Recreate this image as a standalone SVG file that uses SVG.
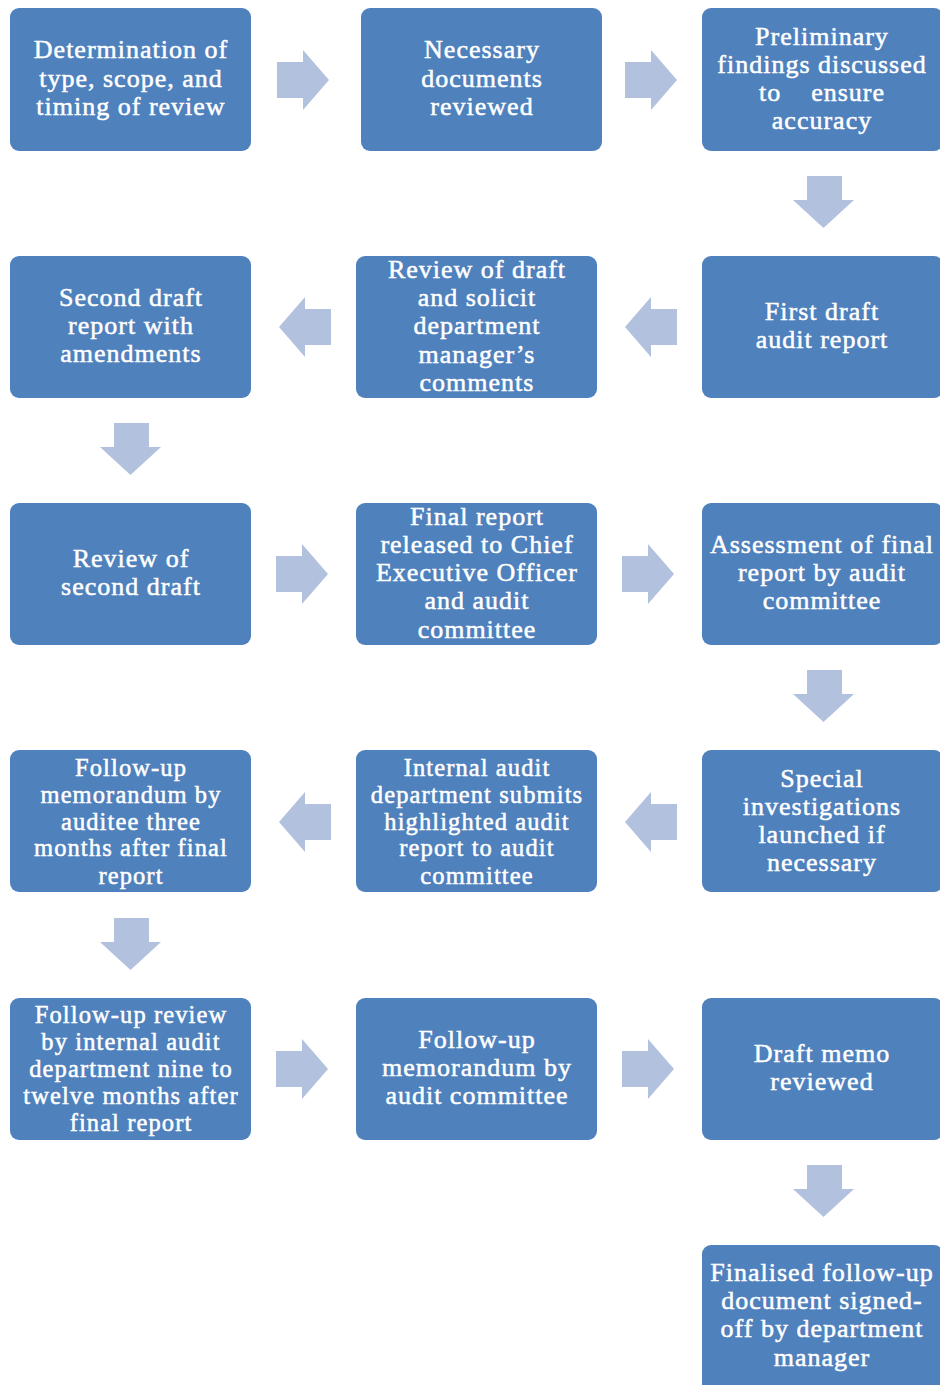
<svg xmlns="http://www.w3.org/2000/svg" width="940" height="1385" viewBox="0 0 940 1385">
<style>
.box{fill:#4F81BD;}
.arr{fill:#B2C2DE;}
text{font-family:"Liberation Serif","DejaVu Serif",serif;font-size:26px;letter-spacing:1px;fill:#FFFFFF;text-anchor:middle;stroke:#FFFFFF;stroke-width:0.5;}
.sm{font-size:24.5px;letter-spacing:1.1px;}
</style>
<defs>
<path id="ar" d="M0,12 H26 V0 L52,30 L26,60 V48 H0 Z"/>
<path id="al" d="M52,12 H26 V0 L0,30 L26,60 V48 H52 Z"/>
<path id="ad" d="M14,0 H49 V24 H61 L30.5,52 L0,24 H14 Z"/>
</defs>
<rect width="940" height="1385" fill="#FFFFFF"/>
<g id="connectors" class="arr">
<use href="#ar" x="277" y="50"/>
<use href="#ar" x="625" y="50"/>
<use href="#ad" x="793" y="176"/>
<use href="#al" x="625" y="297"/>
<use href="#al" x="279" y="297"/>
<use href="#ad" x="100" y="423"/>
<use href="#ar" x="276" y="544"/>
<use href="#ar" x="622" y="544"/>
<use href="#ad" x="793" y="670"/>
<use href="#al" x="625" y="792"/>
<use href="#al" x="279" y="792"/>
<use href="#ad" x="100" y="918"/>
<use href="#ar" x="276" y="1039"/>
<use href="#ar" x="622" y="1039"/>
<use href="#ad" x="793" y="1165"/>
</g>
<g id="n1"><rect class="box" x="10" y="8" width="241" height="143" rx="9"/>
<text x="131" y="58">Determination of</text><text x="131" y="87">type, scope, and</text><text x="131" y="115">timing of review</text></g>
<g id="n2"><rect class="box" x="361" y="8" width="241" height="143" rx="9"/>
<text x="482" y="58">Necessary</text><text x="482" y="87">documents</text><text x="482" y="115">reviewed</text></g>
<g id="n3"><rect class="box" x="702" y="8" width="241" height="143" rx="9"/>
<text x="822" y="45">Preliminary</text><text x="822" y="73">findings discussed</text><text x="822" y="101" style="white-space:pre">to    ensure</text><text x="822" y="129">accuracy</text></g>
<g id="n4"><rect class="box" x="702" y="256" width="241" height="142" rx="9"/>
<text x="822" y="320">First draft</text><text x="822" y="348">audit report</text></g>
<g id="n5"><rect class="box" x="356" y="256" width="241" height="142" rx="9"/>
<text x="477" y="278">Review of draft</text><text x="477" y="306">and solicit</text><text x="477" y="334">department</text><text x="477" y="363">manager’s</text><text x="477" y="391">comments</text></g>
<g id="n6"><rect class="box" x="10" y="256" width="241" height="142" rx="9"/>
<text x="131" y="306">Second draft</text><text x="131" y="334">report with</text><text x="131" y="362">amendments</text></g>
<g id="n7"><rect class="box" x="10" y="503" width="241" height="142" rx="9"/>
<text x="131" y="567">Review of</text><text x="131" y="595">second draft</text></g>
<g id="n8"><rect class="box" x="356" y="503" width="241" height="142" rx="9"/>
<text x="477" y="525">Final report</text><text x="477" y="553">released to Chief</text><text x="477" y="581">Executive Officer</text><text x="477" y="609">and audit</text><text x="477" y="638">committee</text></g>
<g id="n9"><rect class="box" x="702" y="503" width="241" height="142" rx="9"/>
<text x="822" y="553">Assessment of final</text><text x="822" y="581">report by audit</text><text x="822" y="609">committee</text></g>
<g id="n10"><rect class="box" x="702" y="750" width="241" height="142" rx="9"/>
<text x="822" y="787">Special</text><text x="822" y="815">investigations</text><text x="822" y="843">launched if</text><text x="822" y="871">necessary</text></g>
<g id="n11"><rect class="box" x="356" y="750" width="241" height="142" rx="9"/>
<text class="sm" x="477" y="776">Internal audit</text><text class="sm" x="477" y="803">department submits</text><text class="sm" x="477" y="830">highlighted audit</text><text class="sm" x="477" y="856">report to audit</text><text class="sm" x="477" y="884">committee</text></g>
<g id="n12"><rect class="box" x="10" y="750" width="241" height="142" rx="9"/>
<text class="sm" x="131" y="776">Follow-up</text><text class="sm" x="131" y="803">memorandum by</text><text class="sm" x="131" y="830">auditee three</text><text class="sm" x="131" y="856">months after final</text><text class="sm" x="131" y="884">report</text></g>
<g id="n13"><rect class="box" x="10" y="998" width="241" height="142" rx="9"/>
<text class="sm" x="131" y="1023">Follow-up review</text><text class="sm" x="131" y="1050">by internal audit</text><text class="sm" x="131" y="1077">department nine to</text><text class="sm" x="131" y="1104">twelve months after</text><text class="sm" x="131" y="1131">final report</text></g>
<g id="n14"><rect class="box" x="356" y="998" width="241" height="142" rx="9"/>
<text x="477" y="1048">Follow-up</text><text x="477" y="1076">memorandum by</text><text x="477" y="1104">audit committee</text></g>
<g id="n15"><rect class="box" x="702" y="998" width="241" height="142" rx="9"/>
<text x="822" y="1062">Draft memo</text><text x="822" y="1090">reviewed</text></g>
<g id="n16"><rect class="box" x="702" y="1245" width="241" height="150" rx="9"/>
<text x="822" y="1281">Finalised follow-up</text><text x="822" y="1309">document signed-</text><text x="822" y="1337">off by department</text><text x="822" y="1366">manager</text></g>
</svg>
